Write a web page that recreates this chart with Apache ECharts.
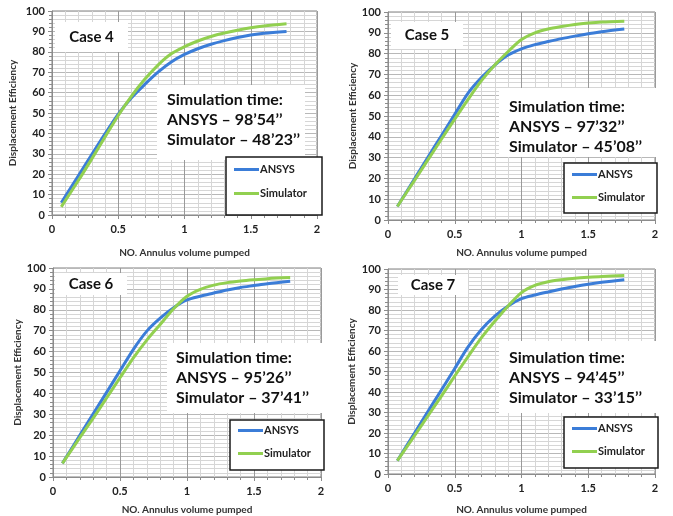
<!DOCTYPE html>
<html><head><meta charset="utf-8">
<script src="https://cdn.jsdelivr.net/npm/echarts@6/dist/echarts.min.js"></script>
<style>html,body{margin:0;padding:0;background:#fff}#c{width:673px;height:516px}</style>
</head><body><div id="c"></div>
<script>
// ---- data ----
const xValues = [0.07, 0.2, 0.3, 0.4, 0.5, 0.6, 0.7, 0.8, 0.9, 1.0, 1.1, 1.2, 1.3, 1.4, 1.5, 1.6, 1.77];
const case4Ansys     = [6, 19.3, 29.6, 39.8, 49.5, 57.5, 64, 70, 75, 78.7, 81.5, 83.7, 85.5, 87, 88.2, 89.1, 90];
const case4Simulator = [4, 17, 27.5, 38.2, 48.8, 58.3, 66.5, 73.5, 79, 82.5, 85.3, 87.5, 89.2, 90.6, 91.8, 92.7, 93.8];
const case5Ansys     = [6.5, 19.9, 30.3, 40.5, 50.8, 61, 68.5, 74.5, 79.3, 82.3, 84.3, 85.8, 87.2, 88.4, 89.5, 90.5, 91.8];
const case5Simulator = [6.5, 19.2, 29, 38.8, 48.5, 58, 67, 74.5, 81, 86.8, 90, 91.8, 93, 94, 94.7, 95.2, 95.6];
const case6Ansys     = [6.5, 19.9, 30.2, 40.5, 50.8, 61.1, 69.8, 76, 81, 84.7, 86.5, 88, 89.5, 90.7, 91.6, 92.5, 93.7];
const case6Simulator = [6.5, 18.8, 28.2, 37.8, 47.5, 57, 65.5, 73, 80.5, 86.5, 89.8, 91.8, 93, 93.8, 94.4, 94.9, 95.4];
const case7Ansys     = [6.5, 20.1, 30.6, 41, 51.5, 62, 70.5, 77, 82, 85.5, 87.3, 88.8, 90.2, 91.5, 92.6, 93.5, 94.8];
const case7Simulator = [6.5, 18.8, 28.4, 38, 47.8, 57.3, 66.5, 74.5, 82, 88.5, 92, 93.8, 94.8, 95.5, 96, 96.4, 96.8];
const caseNames = ['Case 4', 'Case 5', 'Case 6', 'Case 7'];
const ansysTimes = ['98’54’’', '97’32’’', '95’26’’', '94’45’’'];
const simulatorTimes = ['48’23’’', '45’08’’', '37’41’’', '33’15’’'];
const seriesNames = ['ANSYS', 'Simulator'];
const xTitle = 'NO. Annulus volume pumped';
const yTitle = 'Displacement Efficiency';

// ---- layout / style ----
const FONT = 'Lato';
const BLUE = '#3b7dd8';
const GREEN = '#92d050';
const panels = [
  {l:52, r:317, t:11, b:215, yGap:34, xGap:33, cb:[55,22,73,30], sb:[157,85,148,75], sx:167, sy:100, lg:[226,157,96,58], lx:234, ly:164, gap:13},
  {l:388, r:655, t:12, b:220, yGap:30, xGap:28, cb:[391,22,72,27], sb:[499,88,159,69], sx:509, sy:107, lg:[564,163,93,50], lx:572, ly:169, gap:12},
  {l:53, r:321, t:268, b:478, yGap:30, xGap:28, cb:[55,273,72,22], sb:[167,343,158,70], sx:176, sy:358, lg:[230,420,94,50], lx:238, ly:425, gap:12},
  {l:388, r:655, t:269, b:475, yGap:31, xGap:31, cb:[398,275,70,20], sb:[499,341,159,72], sx:509, sy:358, lg:[564,417,94,51], lx:572, ly:423, gap:12}
];
const data = [[case4Ansys, case4Simulator],[case5Ansys, case5Simulator],[case6Ansys, case6Simulator],[case7Ansys, case7Simulator]];

const grid = [], xAxis = [], yAxis = [], series = [], legend = [], graphic = [];
panels.forEach((p, i) => {
  grid.push({left:p.l, top:p.t, width:p.r - p.l, height:p.b - p.t, show:true, borderColor:'#808080', borderWidth:1, backgroundColor:'#fff'});
  const common = {
    gridIndex:i, nameLocation:'middle',
    nameTextStyle:{fontFamily:FONT, fontWeight:'bold', fontSize:10, color:'#333'},
    axisLine:{show:true, onZero:false, lineStyle:{color:'#8c8c8c'}},
    axisTick:{show:true, length:4, lineStyle:{color:'#8c8c8c'}},
    minorTick:{show:true, splitNumber:5, length:3, lineStyle:{color:'#8c8c8c'}},
    axisLabel:{fontFamily:FONT, fontWeight:'bold', fontSize:11, color:'#222'},
    minorSplitLine:{show:true, lineStyle:{color:'#d6d6d6', width:1}}
  };
  xAxis.push(Object.assign({}, common, {type:'value', min:0, max:2, interval:0.5, name:xTitle, nameGap:p.xGap,
    splitLine:{show:true, lineStyle:{color:'#9a9a9a'}}, axisLabel:Object.assign({}, common.axisLabel, {margin:9})}));
  yAxis.push(Object.assign({}, common, {type:'value', min:0, max:100, interval:10, name:yTitle, nameGap:p.yGap,
    splitLine:{show:true, lineStyle:{color:'#b8b8b8'}}, axisLabel:Object.assign({}, common.axisLabel, {margin:7})}));
  [0,1].forEach(k => {
    series.push({type:'line', name:seriesNames[k], xAxisIndex:i, yAxisIndex:i, symbol:'none', smooth:0.3,
      lineStyle:{width:3, color:k ? GREEN : BLUE}, itemStyle:{color:k ? GREEN : BLUE}, z:k ? 3 : 2,
      data:xValues.map((x, j) => [x, data[i][k][j]])});
  });
  legend.push({left:p.lx, top:p.ly, orient:'vertical', padding:0, itemGap:p.gap, icon:'rect', itemWidth:25, itemHeight:3,
    data:seriesNames, selectedMode:false, z:20,
    textStyle:{fontFamily:FONT, fontWeight:'bold', fontSize:11, color:'#222', padding:[0,0,0,-4]}});
  graphic.push({type:'rect', shape:{x:p.cb[0], y:p.cb[1], width:p.cb[2], height:p.cb[3]}, style:{fill:'#fff'}, z:10});
  graphic.push({type:'text', x:p.cb[0] + p.cb[2]/2, y:p.cb[1] + p.cb[3]/2, z:11,
    style:{text:caseNames[i], fontFamily:FONT, fontWeight:'bold', fontSize:15, fill:'#111', align:'center', verticalAlign:'middle'}});
  graphic.push({type:'rect', shape:{x:p.sb[0], y:p.sb[1], width:p.sb[2], height:p.sb[3]}, style:{fill:'#fff'}, z:10});
  const lines = ['Simulation time:', 'ANSYS – ' + ansysTimes[i], 'Simulator – ' + simulatorTimes[i]];
  lines.forEach((s, j) => graphic.push({type:'text', x:p.sx, y:p.sy + j*20, z:11,
    style:{text:s, fontFamily:FONT, fontWeight:'bold', fontSize:16, fill:'#111', align:'left', verticalAlign:'middle'}}));
  graphic.push({type:'rect', shape:{x:p.lg[0], y:p.lg[1], width:p.lg[2], height:p.lg[3]}, style:{fill:'#fff', stroke:'#1a1a1a', lineWidth:1.5}, z:10});
});

const chart = echarts.init(document.getElementById('c'), null, {renderer:'canvas'});
chart.setOption({animation:false, backgroundColor:'#fff', grid, xAxis, yAxis, series, legend, graphic});
</script>
</body></html>
